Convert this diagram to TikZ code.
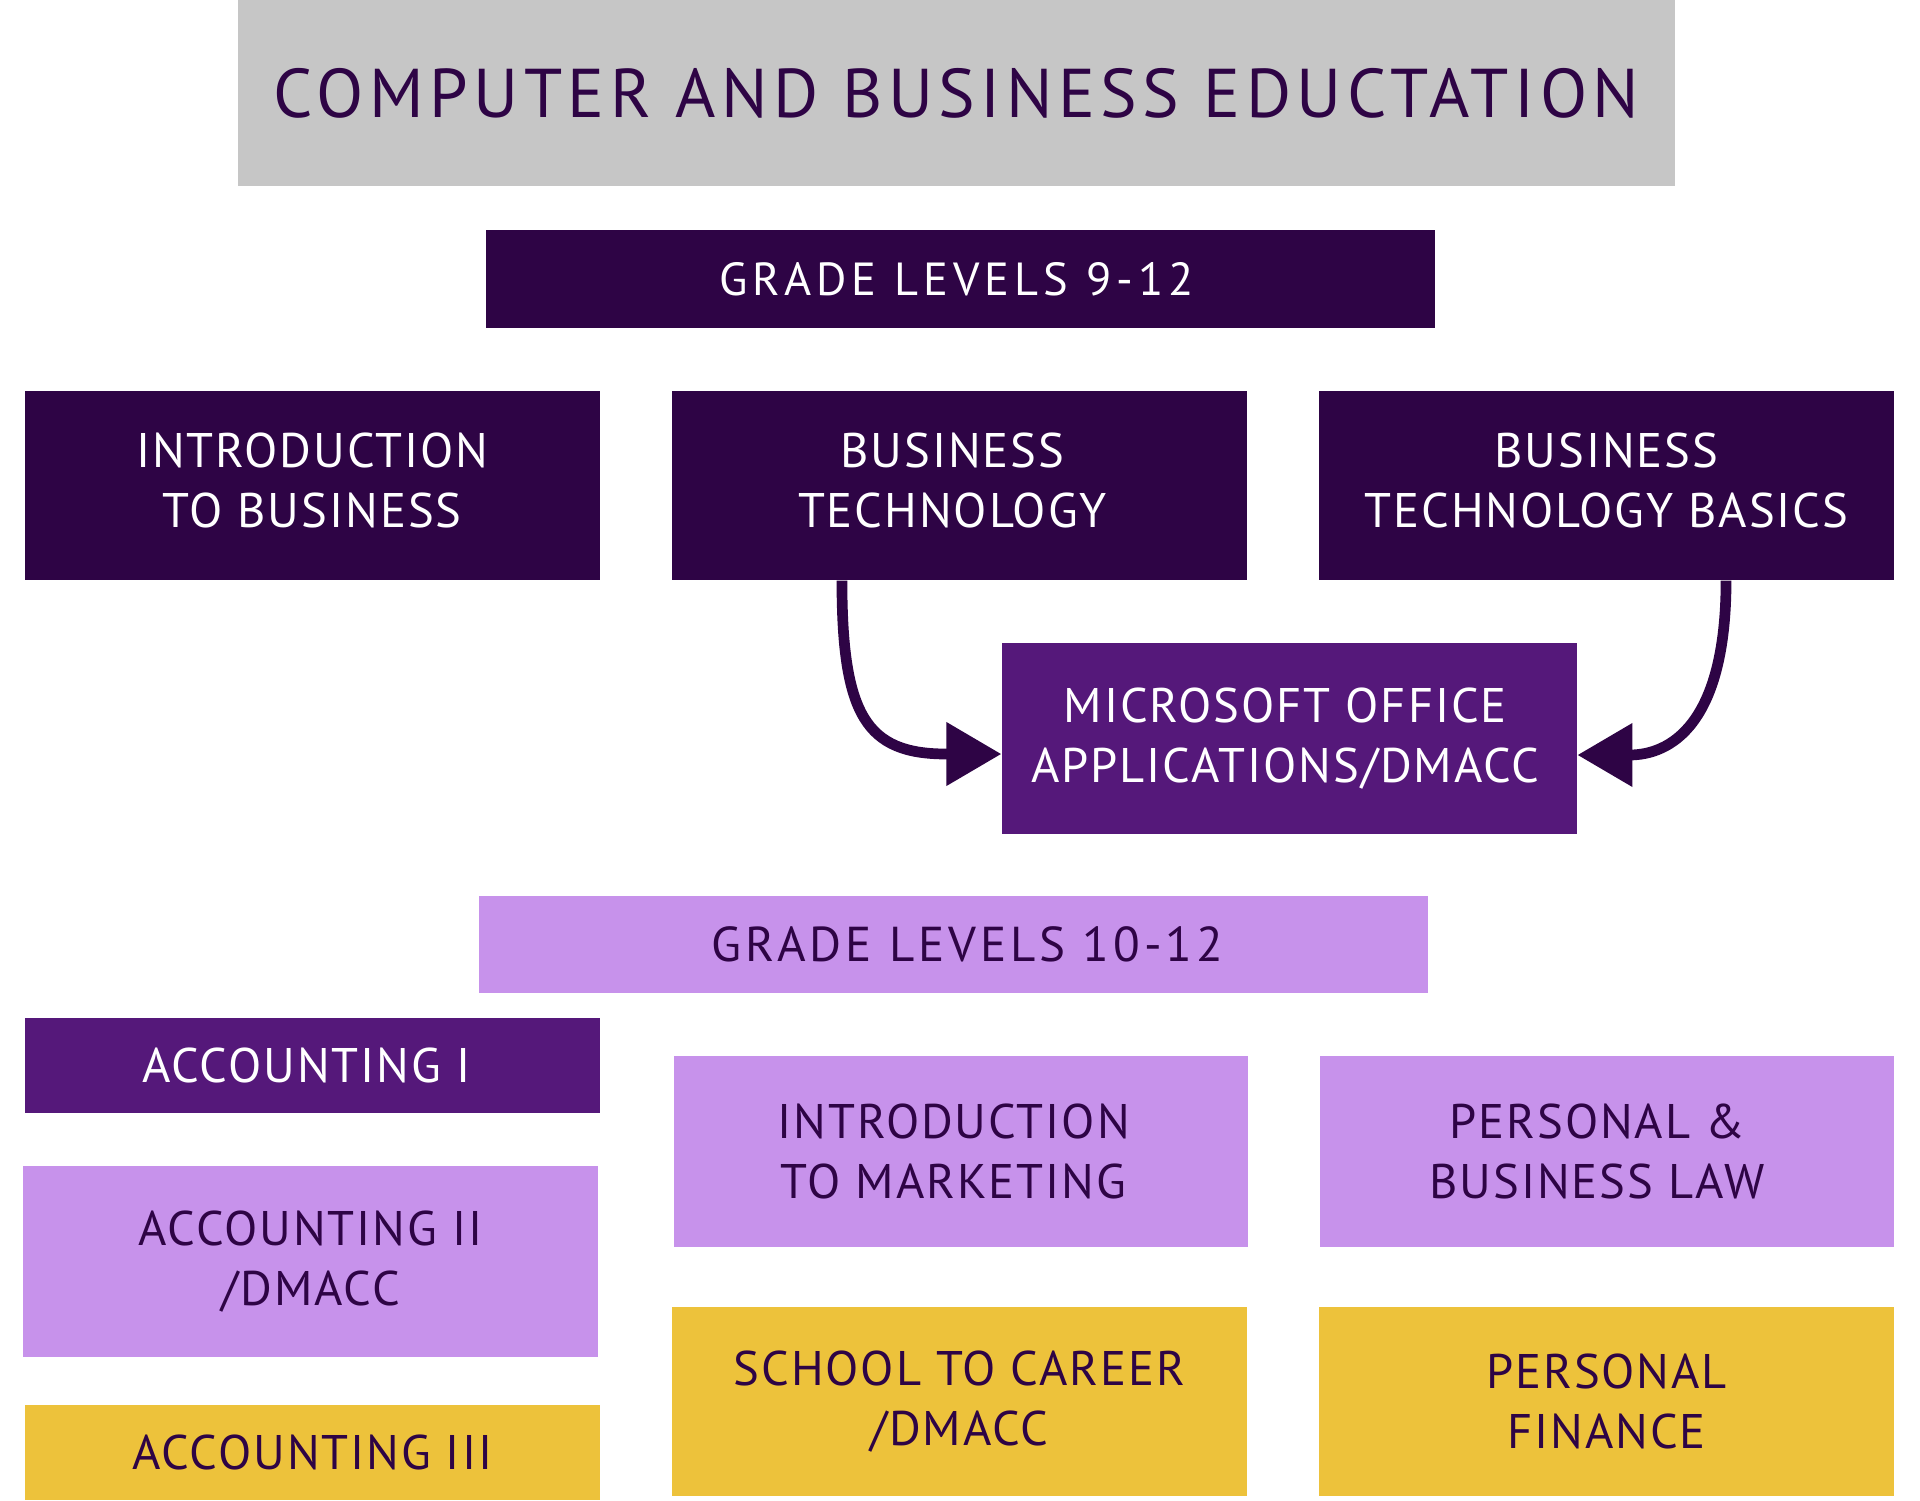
\documentclass[tikz,border=0pt]{standalone}
\usepackage{fontspec}
\setmainfont{PT Sans}
\newfontfamily\trackfont{PT Sans}[LetterSpace=4]
\newfontfamily\titlettfont{PT Sans}[LetterSpace=8]
\newfontfamily\gradefont{PT Sans}[LetterSpace=11]
\usetikzlibrary{arrows.meta}
\definecolor{dkp}{HTML}{2E0445}
\definecolor{mdp}{HTML}{55187A}
\definecolor{ltp}{HTML}{C792EB}
\definecolor{ylw}{HTML}{EDC23B}
\definecolor{gry}{HTML}{C6C6C6}
\begin{document}
\begin{tikzpicture}[x=1pt,y=-1pt,
  box/.style={rectangle, inner sep=0pt, align=center,
    font=\trackfont\fontsize{48.6}{60}\selectfont},
  darkbox/.style={box, fill=dkp, text=white},
  medbox/.style={box, fill=mdp, text=white},
  lightbox/.style={box, fill=ltp, text=dkp},
  yelbox/.style={box, fill=ylw, text=dkp},
  conn/.style={draw=dkp, line width=10.7pt},
  tipconn/.style={conn, -{Triangle[length=55pt,width=61pt]}},
]
\useasboundingbox (0,0) rectangle (1920,1500);
\fill[white] (0,0) rectangle (1920,1500);

\node[box, fill=gry, text=dkp, minimum width=1437.5pt, minimum height=186.1pt,
  font=\titlettfont\fontsize{69}{80}\selectfont] (title) at (956.35,93.05)
  {COMPUTER AND BUSINESS EDUCTATION};

\node[darkbox, minimum width=949pt, minimum height=98pt,
  font=\gradefont\fontsize{46.4}{60}\selectfont] (gl9) at (960.6,279.2) {\hspace*{-8pt}GRADE LEVELS 9-12};

\node[darkbox, minimum width=575.5pt, minimum height=189.8pt] (intro) at (312.25,485.5)
  {\begin{tabular}{@{}c@{}}INTRODUCTION\\TO BUSINESS\end{tabular}};
\node[darkbox, minimum width=574.3pt, minimum height=189.8pt] (bt) at (959.45,485.5)
  {\hspace*{-14pt}\begin{tabular}{@{}c@{}}BUSINESS\\TECHNOLOGY\end{tabular}};
\node[darkbox, minimum width=575.5pt, minimum height=189.8pt] (btb) at (1606.55,485.5)
  {\begin{tabular}{@{}c@{}}BUSINESS\\TECHNOLOGY BASICS\end{tabular}};

\node[medbox, minimum width=575.6pt, minimum height=191pt] (ms) at (1289.4,738.4)
  {\hspace*{-8pt}MICROSOFT OFFICE\\\hspace*{-8pt}APPLICATIONS/DMACC};

\node[lightbox, minimum width=949pt, minimum height=96.8pt,
  font=\titlettfont\fontsize{49}{60}\selectfont] (gl10) at (953.3,944.7) {\hspace*{28pt}GRADE LEVELS 10-12};

\node[medbox, minimum width=575.5pt, minimum height=95.5pt] (acc1) at (312.25,1065.35) {\hspace*{-12pt}ACCOUNTING I};
\node[lightbox, minimum width=574.3pt, minimum height=191pt] (acc2) at (310.45,1261.2) {ACCOUNTING II\\/DMACC};
\node[yelbox, minimum width=575.5pt, minimum height=95.5pt] (acc3) at (312.25,1452.25) {ACCOUNTING III};

\node[lightbox, minimum width=574.3pt, minimum height=191pt] (mkt) at (960.65,1151)
  {\hspace*{-14pt}INTRODUCTION\\\hspace*{-14pt}TO MARKETING};
\node[lightbox, minimum width=574.3pt, minimum height=191pt] (pbl) at (1607.15,1151)
  {\hspace*{-20pt}PERSONAL \&\\\hspace*{-20pt}BUSINESS LAW};
\node[yelbox, minimum width=574.3pt, minimum height=189.8pt] (stc) at (959.45,1401.4) {SCHOOL TO CAREER\\/DMACC};
\node[yelbox, minimum width=575.5pt, minimum height=189.8pt] (pf) at (1606.55,1401.4) {PERSONAL\\FINANCE};

% connectors
\coordinate (ltip) at ([yshift=-15.6pt]ms.west);
\coordinate (lbase) at ([xshift=-55pt]ltip);
\coordinate (rtip) at ([yshift=-16.6pt]ms.east);
\coordinate (rbase) at ([xshift=52pt]rtip);
\coordinate (lstart) at ([xshift=-117.5pt]bt.south);
\coordinate (rstart) at ([xshift=119.5pt]btb.south);

\draw[tipconn] (lstart) .. controls ++(0,135) and ([xshift=-80pt]lbase) .. (lbase) -- (ltip);
\draw[tipconn] (rstart) .. controls ++(0,145) and ([xshift=40pt]rbase) .. (rbase) -- (rtip);
\end{tikzpicture}
\end{document}
